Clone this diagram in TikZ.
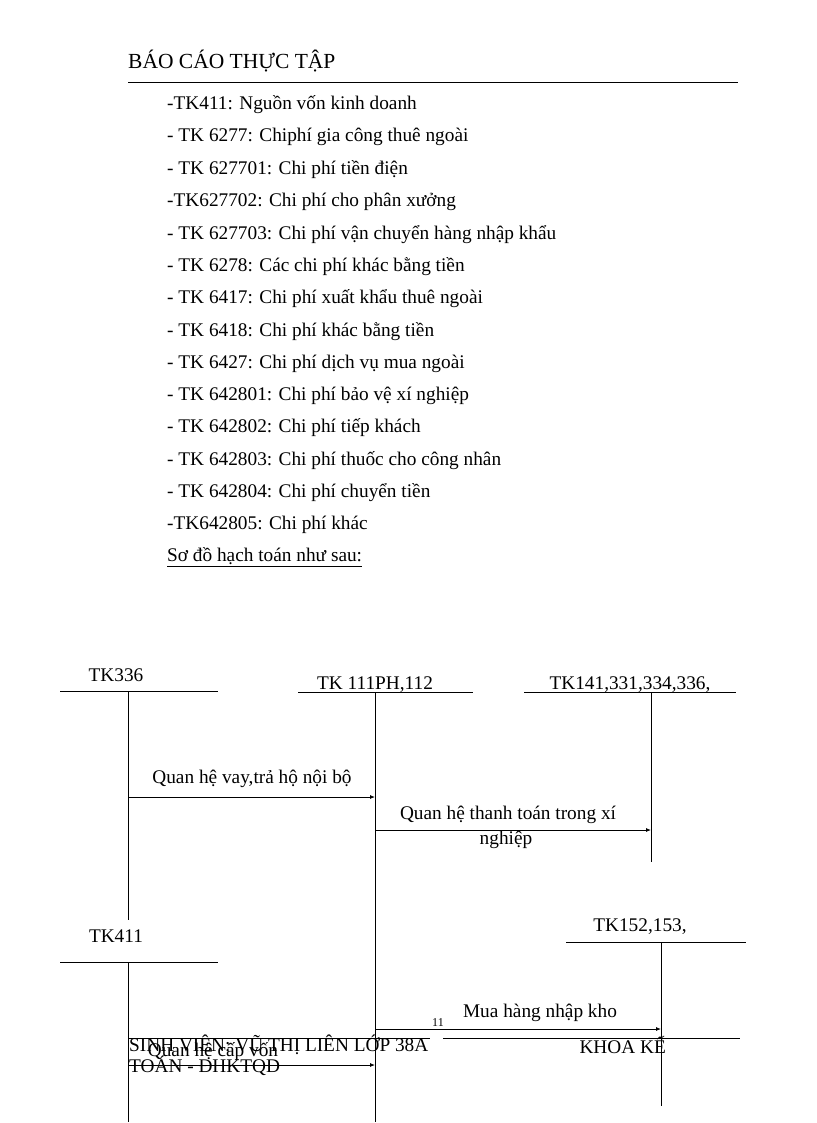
\documentclass[tikz,border=0pt]{standalone}
\usepackage{fontspec}
\setmainfont{Liberation Serif}
\usetikzlibrary{arrows.meta}
\begin{document}
\begin{tikzpicture}[x=1pt,y=-1pt,
 txt/.style={anchor=west,inner sep=0pt,font=\fontsize{19.3}{21}\selectfont},
 lbl/.style={inner sep=0pt,font=\fontsize{19.3}{21}\selectfont},
 ln/.style={line width=0.8pt},
 arr/.style={line width=0.8pt,-{Latex[length=5pt,width=4pt]}}]
\useasboundingbox (0,0) rectangle (816,1123);
\node[txt,font=\fontsize{21.5}{23}\selectfont] (h) at (128,61) {BÁO CÁO THỰC TẬP};
\draw[ln] (128,82) -- (738,82);
\foreach \t [count=\i from 0] in {{-TK411: Nguồn vốn kinh  doanh},{ - TK 6277:  Chiphí gia  công thuê ngoài},{ - TK 627701:  Chi phí tiền  điện},{-TK627702:  Chi phí cho phân xưởng},{ - TK 627703:  Chi phí vận chuyển hàng nhập khẩu},{ - TK 6278:  Các chi phí khác bằng tiền},{ - TK 6417:  Chi phí xuất khẩu thuê ngoài},{ - TK 6418:  Chi phí khác bằng tiền},{ - TK 6427:  Chi phí dịch vụ mua ngoài},{ - TK 642801:  Chi phí bảo vệ xí nghiệp},{ - TK 642802:  Chi phí tiếp khách},{ - TK 642803:  Chi phí thuốc cho công nhân},{ - TK 642804:  Chi phí chuyển tiền},{-TK642805:  Chi phí khác}}
 \node[txt] (l\i) at (167,{105+32.3*\i}) {\t};
\node[txt] (s) at (167,557) {\underline{Sơ đồ hạch toán như sau:}};
\node[lbl] (a1) at (116,675) {TK336};
\draw[ln] (60,691) -- (218,691);
\node[lbl] (a2) at (375,685) {TK 111PH,112};
\draw[ln] (298,692) -- (473,692);
\node[lbl] (a3) at (630,685) {TK141,331,334,336,};
\draw[ln] (524,692) -- (736,692);
\coordinate (v1t) at (128,691); \coordinate (v1b) at (128,920);
\coordinate (v2t) at (375,692); \coordinate (v2b) at (375,1122);
\coordinate (v3t) at (651,692); \coordinate (v3b) at (651,862);
\draw[ln] (v1t)--(v1b); \draw[ln] (v2t)--(v2b); \draw[ln] (v3t)--(v3b);
\coordinate (p1) at (128,797); \coordinate (q1) at (375,797);
\draw[arr] (p1)--(q1);
\node[lbl] (t1) at (252,779) {Quan hệ vay,trả hộ nội bộ};
\coordinate (p2) at (375,830); \coordinate (q2) at (651,830);
\draw[arr] (p2)--(q2);
\node[lbl] (t2) at (508,815) {Quan hệ thanh toán trong xí};
\node[lbl] (t3) at (506,840) {nghiệp};
\node[lbl] (a4) at (116,936) {TK411};
\draw[ln] (60,962) -- (218,962);
\node[lbl] (a5) at (640,927) {TK152,153,};
\draw[ln] (566,942) -- (746,942);
\coordinate (v4t) at (128,962); \coordinate (v4b) at (128,1122);
\coordinate (v5t) at (661,942); \coordinate (v5b) at (661,1106);
\draw[ln] (v4t)--(v4b); \draw[ln] (v5t)--(v5b);
\coordinate (p3) at (375,1029); \coordinate (q3) at (661,1029);
\draw[arr] (p3)--(q3);
\node[lbl] (t4) at (540,1013) {Mua hàng nhập kho};
\node[lbl,font=\fontsize{12}{13}\selectfont] (n11) at (438,1023) {11};
\draw[ln] (128,1038) -- (430,1038);
\draw[ln] (443,1038) -- (740,1038);
\node[lbl] (t5) at (213,1052) {Quan hệ cấp vốn};
\coordinate (p4) at (128,1065); \coordinate (q4) at (375,1065);
\draw[arr] (p4)--(q4);
\node[txt] (f1) at (129,1045) {SINH VIÊN: VŨ THỊ LIÊN LỚP 38A};
\node[txt] (f2) at (129,1066) {TOÁN - ĐHKTQD};
\node[lbl,anchor=east] (f3) at (666,1045) {KHOA KẾ};
\end{tikzpicture}
\end{document}
